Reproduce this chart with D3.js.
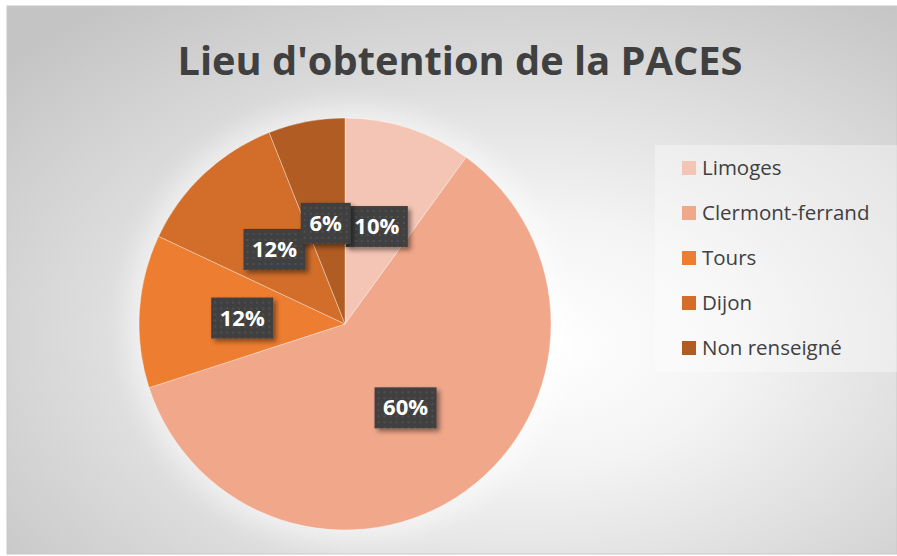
<!DOCTYPE html>
<html>
<head>
<meta charset="utf-8">
<script src="https://cdn.jsdelivr.net/npm/d3@7"></script>
<style>
  body { margin: 0; background: #fff; }
  text { font-family: "Open Sans", sans-serif; }
</style>
</head>
<body>
<div id="chart"></div>
<script>
// data
var categories = ["Limoges", "Clermont-ferrand", "Tours", "Dijon", "Non renseigné"];
var values = [10, 60, 12, 12, 6];
var colors = ["#F4C5B4", "#F1A78A", "#ED7D31", "#D26E2A", "#B05C22"];
var title = "Lieu d'obtention de la PACES";

var width = 897, height = 556;

var svg = d3.select("#chart").append("svg")
  .attr("width", width)
  .attr("height", height);

var defs = svg.append("defs");

// background radial gradient
var bg = defs.append("radialGradient")
  .attr("id", "bgGrad")
  .attr("cx", 0.56).attr("cy", 0.6).attr("r", 0.75)
  .attr("fx", 0.6).attr("fy", 0.62);
bg.append("stop").attr("offset", "0%").attr("stop-color", "#ffffff");
bg.append("stop").attr("offset", "30%").attr("stop-color", "#f4f4f4");
bg.append("stop").attr("offset", "100%").attr("stop-color", "#c4c4c4");

// dotted pattern for label boxes
var pat = defs.append("pattern")
  .attr("id", "dots")
  .attr("width", 6).attr("height", 6)
  .attr("patternUnits", "userSpaceOnUse");
pat.append("rect").attr("width", 6).attr("height", 6).attr("fill", "#404040");
pat.append("rect").attr("x", 2).attr("y", 2).attr("width", 2).attr("height", 2).attr("fill", "#505050");

var shadow = defs.append("filter").attr("id", "shadow")
  .attr("x", "-30%").attr("y", "-30%").attr("width", "160%").attr("height", "160%");
shadow.append("feDropShadow")
  .attr("dx", 3).attr("dy", 3).attr("stdDeviation", 2.5)
  .attr("flood-color", "#000").attr("flood-opacity", 0.45);

var glow = defs.append("filter").attr("id", "glow")
  .attr("x", "-30%").attr("y", "-30%").attr("width", "160%").attr("height", "160%");
glow.append("feGaussianBlur").attr("stdDeviation", 12);

// chart area
svg.append("rect")
  .attr("x", 7).attr("y", 6)
  .attr("width", width - 7).attr("height", height - 8)
  .attr("fill", "url(#bgGrad)")
  .attr("stroke", "#c8c8c8");

svg.append("text")
  .attr("x", 460).attr("y", 75)
  .attr("text-anchor", "middle")
  .attr("font-size", 39)
  .attr("font-weight", "bold")
  .attr("fill", "#404040")
  .attr("textLength", 565)
  .attr("lengthAdjust", "spacingAndGlyphs")
  .text(title);

// pie
var cx = 345, cy = 324, radius = 206;

var pie = d3.pie().sort(null).value(function(d) { return d; });
var arc = d3.arc().innerRadius(0).outerRadius(radius);
var arcs = pie(values);

var g = svg.append("g").attr("transform", "translate(" + cx + "," + cy + ")");

g.append("circle")
  .attr("r", radius + 12)
  .attr("fill", "#ffffff")
  .attr("opacity", 0.5)
  .attr("filter", "url(#glow)");

g.selectAll("path.slice")
  .data(arcs)
  .enter()
  .append("path")
  .attr("class", "slice")
  .attr("d", arc)
  .attr("fill", function(d, i) { return colors[i]; })
  .attr("stroke", "rgba(255,255,255,0.35)")
  .attr("stroke-width", 1);

// data labels
var labels = g.selectAll("g.label")
  .data(arcs)
  .enter()
  .append("g")
  .attr("class", "label")
  .attr("transform", function(d) {
    var c = arc.centroid(d);
    return "translate(" + c[0] + "," + c[1] + ")";
  });

labels.append("rect")
  .attr("x", function(d) { return d.data >= 10 ? -31 : -25; })
  .attr("y", -20)
  .attr("width", function(d) { return d.data >= 10 ? 62 : 50; })
  .attr("height", 41)
  .attr("fill", "url(#dots)")
  .attr("filter", "url(#shadow)");

labels.append("text")
  .attr("text-anchor", "middle")
  .attr("y", 8)
  .attr("font-size", 22)
  .attr("font-weight", "bold")
  .attr("fill", "#ffffff")
  .text(function(d) { return d3.format(".0%")(d.data / d3.sum(values)); });

// legend
var legend = svg.append("g");
legend.append("rect")
  .attr("x", 655).attr("y", 145)
  .attr("width", 242).attr("height", 227)
  .attr("fill", "#ffffff")
  .attr("opacity", 0.35);

var item = legend.selectAll("g.item")
  .data(categories)
  .enter()
  .append("g")
  .attr("class", "item")
  .attr("transform", function(d, i) { return "translate(682," + (168 + i * 45) + ")"; });

item.append("rect")
  .attr("x", 0).attr("y", -7)
  .attr("width", 14).attr("height", 14)
  .attr("fill", function(d, i) { return colors[i]; });

item.append("text")
  .attr("x", 20).attr("y", 7)
  .attr("font-size", 20.5)
  .attr("fill", "#404040")
  .text(function(d) { return d; });
</script>
</body>
</html>
